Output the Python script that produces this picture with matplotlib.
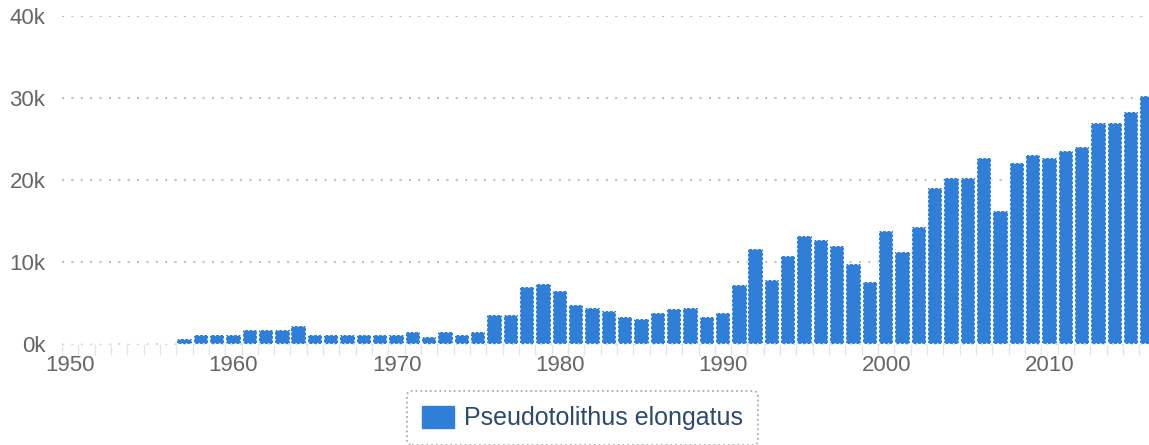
import matplotlib.pyplot as plt
from matplotlib.patches import Patch

plt.rcParams['font.family'] = ['Liberation Sans', 'DejaVu Sans']

# catch per year
years = list(range(1950, 2017))
values = [
    0, 0, 0, 0, 0, 0, 0, 550, 1100, 1100,            # 1950-1959
    1100, 1600, 1600, 1600, 2200, 1100, 1100, 1100, 1100, 1100,  # 1960-1969
    1100, 1400, 850, 1400, 1100, 1400, 3450, 3450, 6900, 7300,  # 1970-1979
    6400, 4700, 4400, 4000, 3200, 2950, 3750, 4200, 4400, 3200,  # 1980-1989
    3700, 7200, 11600, 7800, 10700, 13200, 12700, 11900, 9700, 7500,  # 1990-1999
    13750, 11200, 14200, 19000, 20200, 20200, 22700, 16150, 22100, 23000,  # 2000-2009
    22700, 23500, 24000, 26900, 26900, 28300, 30250,  # 2010-2016
]
series_name = "Pseudotolithus elongatus"
y_ticks = [0, 10000, 20000, 30000, 40000]
y_labels = ["0k", "10k", "20k", "30k", "40k"]
x_ticks = [1950, 1960, 1970, 1980, 1990, 2000, 2010]

bar_color = "#2f7ed8"

fig = plt.figure(figsize=(11.49, 4.45), dpi=100)
ax = fig.add_axes([62 / 1149, 101.5 / 445, 1 - 62 / 1149, (343.5 - 16.3) / 445])

ax.bar(years, values, width=0.88, color=bar_color, edgecolor="white",
       linewidth=1.2, linestyle=":", zorder=3)

ax.set_xlim(1949.55, 2016.1)
ax.set_ylim(0, 40000)

# grid
for v in y_ticks[1:]:
    ax.axhline(v, color="#c0c0c0", linestyle=(0, (1, 3.5)), linewidth=1.5, zorder=1)
ax.axhline(0, color="#ccd6eb", linestyle=(0, (1, 3.5)), linewidth=1.5, zorder=2, clip_on=False)

for s in ax.spines.values():
    s.set_visible(False)

ax.set_yticks(y_ticks)
ax.set_yticklabels(y_labels)
ax.set_xticks(x_ticks)
ax.set_xticklabels([str(x) for x in x_ticks])
ax.set_xticks([y - 0.5 for y in years], minor=True)
ax.tick_params(axis="y", length=0, pad=12, labelsize=16, labelcolor="#666666")
ax.tick_params(axis="x", which="major", length=0, pad=8, labelsize=16, labelcolor="#666666")
ax.tick_params(axis="x", which="minor", length=8, width=1, color="#dfe6f1")

handle = Patch(facecolor=bar_color, edgecolor=bar_color, label=series_name)
leg = fig.legend(handles=[handle], loc="center", bbox_to_anchor=(0.507, 0.0607),
                 fontsize=18, frameon=True, fancybox=True, handlelength=1.3,
                 handleheight=1.0, handletextpad=0.4, borderpad=0.6,
                 borderaxespad=0, labelcolor="#2c4a6b")
frame = leg.get_frame()
frame.set_edgecolor("#999999")
frame.set_linestyle(":")
frame.set_linewidth(1.3)
frame.set_facecolor("white")

fig.savefig("out.png", dpi=100)
